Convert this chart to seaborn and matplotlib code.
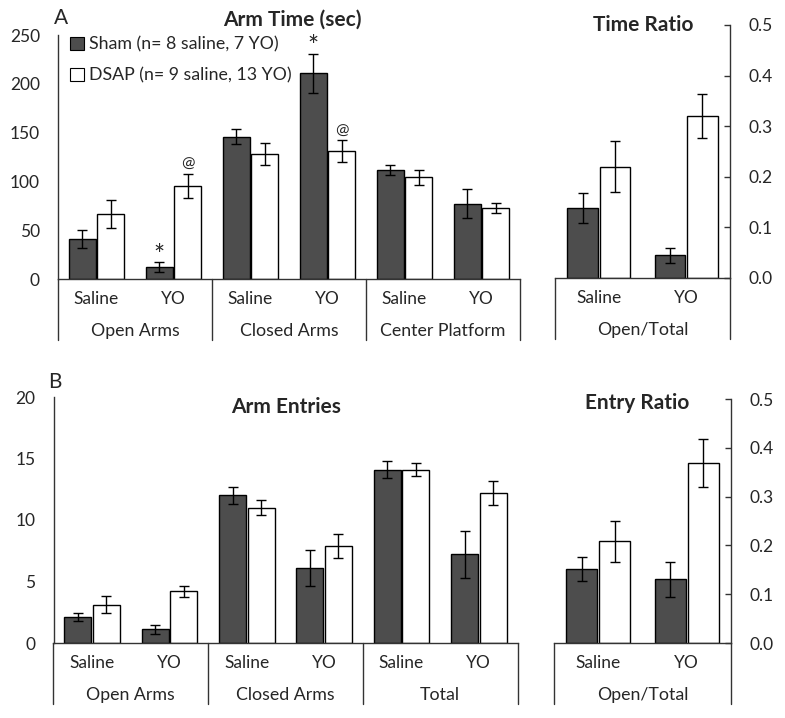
import matplotlib
matplotlib.use("Agg")
import matplotlib.pyplot as plt
import pandas as pd
import seaborn as sns

LESIONS = ["Sham (n= 8 saline, 7 YO)", "DSAP (n= 9 saline, 13 YO)"]
TREATMENTS = ["Saline", "YO"]
COLORS = ["#4d4d4d", "#ffffff"]

# Panel A: arm time (sec)
time_groups = ["Open Arms", "Closed Arms", "Center Platform"]
time_sham = [41, 12.5, 146, 211, 112, 77]
time_sham_err = [9, 5, 8, 20, 5, 15]
time_dsap = [66.5, 95, 128, 131, 104, 73]
time_dsap_err = [14.5, 12.5, 11, 11, 8, 5]
time_marks = [(1, 0, "*"), (1, 1, "@"), (3, 0, "*"), (3, 1, "@")]

time_ratio_sham = [0.138, 0.045]
time_ratio_sham_err = [0.03, 0.015]
time_ratio_dsap = [0.22, 0.32]
time_ratio_dsap_err = [0.05, 0.044]

# Panel B: arm entries
entry_groups = ["Open Arms", "Closed Arms", "Total"]
entry_sham = [2.1, 1.1, 12.0, 6.1, 14.1, 7.2]
entry_sham_err = [0.35, 0.4, 0.7, 1.5, 0.7, 1.9]
entry_dsap = [3.1, 4.2, 11.0, 7.9, 14.1, 12.2]
entry_dsap_err = [0.7, 0.45, 0.6, 1.0, 0.55, 0.95]

entry_ratio_sham = [0.152, 0.131]
entry_ratio_sham_err = [0.024, 0.036]
entry_ratio_dsap = [0.209, 0.369]
entry_ratio_dsap_err = [0.042, 0.049]

sns.set_theme(style="white")
plt.rcParams["font.family"] = ["Lato", "DejaVu Sans"]
plt.rcParams["font.size"] = 12.5
LINE = "#333333"


def make_frame(groups, sham, sham_err, dsap, dsap_err):
    rows = []
    slots = [f"{g}|{t}" for g in groups for t in TREATMENTS]
    for i, slot in enumerate(slots):
        rows.append((slot, LESIONS[0], sham[i], sham_err[i]))
        rows.append((slot, LESIONS[1], dsap[i], dsap_err[i]))
    return pd.DataFrame(rows, columns=["slot", "lesion", "value", "err"]), slots


def draw_panel(ax, groups, sham, sham_err, dsap, dsap_err, right=False,
               marks=(), legend=False):
    df, slots = make_frame(groups, sham, sham_err, dsap, dsap_err)
    sns.barplot(data=df, x="slot", y="value", hue="lesion", order=slots,
                hue_order=LESIONS, palette=dict(zip(LESIONS, COLORS)),
                edgecolor="black", linewidth=1, width=0.74, gap=0.06,
                errorbar=None, ax=ax, legend=legend)
    # error bars from the drawn bars
    bar_sets = list(ax.containers)
    for k, cont in enumerate(bar_sets):
        sub = df[df["lesion"] == LESIONS[k]].set_index("slot").loc[slots]
        xs = [p.get_x() + p.get_width() / 2 for p in cont.patches]
        ax.errorbar(xs, sub["value"], yerr=sub["err"], fmt="none",
                    ecolor="black", elinewidth=1, capsize=3.5, capthick=1)
        for slot_i, lesion_i, sym in marks:
            if lesion_i == k:
                top = sub["value"].iloc[slot_i] + sub["err"].iloc[slot_i]
                if sym == "*":
                    ax.annotate(sym, xy=(xs[slot_i], top), xytext=(0, -5),
                                textcoords="offset points", ha="center",
                                va="bottom", fontsize=19)
                else:
                    ax.annotate(sym, xy=(xs[slot_i], top), xytext=(0, 2),
                                textcoords="offset points", ha="center",
                                va="bottom", fontsize=11.5)
    n = len(slots)
    ax.set_xlim(-0.5, n - 0.5)
    ax.set_xlabel("")
    ax.set_ylabel("")
    ax.set_xticks(range(n))
    ax.set_xticklabels(TREATMENTS * len(groups))
    ax.tick_params(axis="x", length=0, pad=9, labelsize=12.5)
    ax.tick_params(axis="y", direction="in", length=4, width=1, color=LINE,
                   pad=13, labelsize=12.5)
    for s in ax.spines.values():
        s.set_color(LINE)
        s.set_linewidth(1)
    ax.spines["top"].set_visible(False)
    h = ax.bbox.height
    trans = ax.get_xaxis_transform()
    if right:
        ax.spines["left"].set_visible(False)
        ax.yaxis.tick_right()
        ax.set_ylim(0, 0.5)
        ax.set_yticks([0, 0.1, 0.2, 0.3, 0.4, 0.5])
        ax.set_yticklabels([f"{v:.1f}" for v in ax.get_yticks()])
    else:
        ax.spines["right"].set_visible(False)
    seps = [2 * i - 0.5 for i in range(len(groups) + 1)]
    for x in seps:
        ax.plot([x, x], [0, -61 / h], transform=trans, clip_on=False,
                color=LINE, lw=1)
    for i, g in enumerate(groups):
        ax.text(2 * i + 0.5, -52 / h, g, transform=trans, ha="center",
                va="center", fontsize=12.8)
    return df


fig = plt.figure(figsize=(7.85, 7.18), dpi=100)
W, H = 785, 718


def rect(x0, y_top, x1, y_bot):
    return [x0 / W, 1 - y_bot / H, (x1 - x0) / W, (y_bot - y_top) / H]


ax_a = fig.add_axes(rect(58, 35, 520, 279))
ax_ar = fig.add_axes(rect(555, 25, 730, 278))
ax_b = fig.add_axes(rect(53.5, 397, 517.5, 643))
ax_br = fig.add_axes(rect(554, 399, 731, 643))

draw_panel(ax_a, time_groups, time_sham, time_sham_err, time_dsap,
           time_dsap_err, marks=time_marks, legend=True)
ax_a.set_ylim(0, 250)
ax_a.set_yticks(range(0, 251, 50))
leg = ax_a.legend(loc="upper left", bbox_to_anchor=(0.0, 1.045), frameon=False,
                  handlelength=0.75, handleheight=0.75, handletextpad=0.3,
                  labelspacing=0.85, borderaxespad=0.3, fontsize=12.8)
for p in leg.get_patches():
    p.set_edgecolor("black")
    p.set_linewidth(0.8)

draw_panel(ax_ar, ["Open/Total"], time_ratio_sham, time_ratio_sham_err,
           time_ratio_dsap, time_ratio_dsap_err, right=True)

draw_panel(ax_b, entry_groups, entry_sham, entry_sham_err, entry_dsap,
           entry_dsap_err)
ax_b.set_ylim(0, 20)
ax_b.set_yticks(range(0, 21, 5))

draw_panel(ax_br, ["Open/Total"], entry_ratio_sham, entry_ratio_sham_err,
           entry_ratio_dsap, entry_ratio_dsap_err, right=True)

for txt, x, y in [("Arm Time (sec)", 292, 20), ("Time Ratio", 643, 25),
                  ("Arm Entries", 286, 407), ("Entry Ratio", 637, 403)]:
    fig.text(x / W, 1 - y / H, txt, ha="center", va="center",
             fontsize=15, fontweight="bold")
fig.text(61 / W, 1 - 18 / H, "A", ha="center", va="center", fontsize=15)
fig.text(55 / W, 1 - 382 / H, "B", ha="center", va="center", fontsize=15)

fig.savefig("out.png", dpi=100)
